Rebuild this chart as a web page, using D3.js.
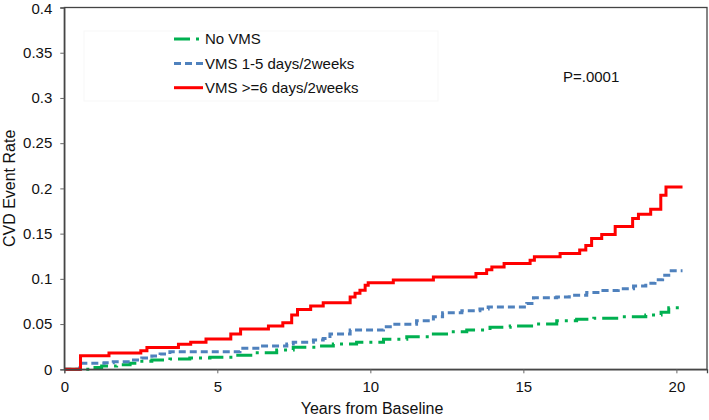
<!DOCTYPE html>
<html><head><meta charset="utf-8">
<script src="https://cdn.jsdelivr.net/npm/d3@7"></script>
<style>
html,body{margin:0;padding:0;background:#fff;}
svg{display:block;font-family:"Liberation Sans",Arial,sans-serif;}
</style></head>
<body><svg id="c" width="709" height="420"></svg>
<script>
// ---- data ----
const seriesNames = ["No VMS", "VMS 1-5 days/2weeks", "VMS >=6 days/2weeks"];
const xTicks = [0, 5, 10, 15, 20];
const yTicks = [0, 0.05, 0.1, 0.15, 0.2, 0.25, 0.3, 0.35, 0.4];
const pValueLabel = "P=.0001";

const noVmsTime = [0,0.6,0.84,1.22,1.71,2.15,2.47,2.86,3.45,4.1,4.76,5.52,6.18,6.94,7.48,8.25,8.79,9.55,10.43,11.19,12.06,12.71,13.15,13.91,14.57,15.33,16.09,16.74,17.3,18.2,19.0,19.5,19.75,20.2];
const noVmsRate = [0,0,0.002,0.0036,0.005,0.0066,0.0088,0.0103,0.0114,0.0125,0.0132,0.0155,0.0183,0.0213,0.0243,0.0257,0.028,0.0298,0.0331,0.036,0.039,0.0415,0.0434,0.0464,0.0478,0.050,0.0536,0.0552,0.0565,0.058,0.060,0.063,0.068,0.068];

const vms15Time = [0,0.43,0.5,1.3,1.6,2.15,2.53,2.86,3.13,3.45,5.74,6.4,7.27,7.48,8.14,8.46,8.68,9.34,10.43,10.75,11.51,12.06,12.36,12.99,13.58,13.85,15.11,15.33,16.09,16.5,17.07,17.6,18.1,18.6,19.0,19.3,19.55,19.75,20.2];
const vms15Rate = [0,0,0.0066,0.0073,0.0084,0.0103,0.0125,0.0147,0.0169,0.0194,0.0232,0.0257,0.028,0.030,0.0323,0.034,0.039,0.0434,0.047,0.0497,0.0537,0.058,0.0625,0.0647,0.0666,0.069,0.0728,0.079,0.080,0.082,0.085,0.087,0.089,0.092,0.095,0.099,0.104,0.109,0.109];

const vms6Time = [0,0.45,0.53,1.46,2.5,2.7,3.73,4.13,4.63,5.44,5.76,6.67,7.14,7.43,7.62,8.05,8.46,9.34,9.5,9.66,9.83,9.93,10.75,12.06,13.45,13.8,13.97,14.37,15.22,15.36,16.2,16.84,17.04,17.23,17.56,18.0,18.57,18.76,19.16,19.49,19.66,20.2];
const vms6Rate = [0,0,0.015,0.018,0.0205,0.024,0.0276,0.030,0.0334,0.039,0.0445,0.048,0.0515,0.06,0.066,0.07,0.0735,0.080,0.084,0.0875,0.093,0.0956,0.0986,0.102,0.106,0.11,0.113,0.117,0.1205,0.1245,0.128,0.132,0.137,0.1446,0.149,0.158,0.1667,0.1714,0.177,0.1924,0.2015,0.2015];

// ---- chart ----
const svg = d3.select("#c");
const L = 64.3, R = 707, T = 7.5, B = 369.3;
const x = d3.scaleLinear().domain([0, 21]).range([L, R]);
const y = d3.scaleLinear().domain([0, 0.4]).range([B, T]);

const styles = [
  {color:"#00B050", dash:"16,6,3,6"},
  {color:"#4F81BD", dash:"7,4"},
  {color:"#FF0000", dash:null}
];
const series = [
  d3.zip(noVmsTime, noVmsRate),
  d3.zip(vms15Time, vms15Rate),
  d3.zip(vms6Time, vms6Rate)
];

// legend faint box
svg.append("rect").attr("x",84).attr("y",31).attr("width",354).attr("height",70)
  .attr("fill","none").attr("stroke","#f7f7f7").attr("stroke-width",1);

const line = d3.line().x(d=>x(d[0])).y(d=>y(d[1])).curve(d3.curveStepAfter);
series.forEach((s,i)=>{
  svg.append("path").datum(s).attr("d",line)
    .attr("fill","none").attr("stroke",styles[i].color).attr("stroke-width",3)
    .attr("stroke-dasharray",styles[i].dash).attr("stroke-linejoin","miter");
});

// frame
svg.append("rect").attr("x",L).attr("y",T).attr("width",R-L).attr("height",B-T)
  .attr("fill","none").attr("stroke","#444").attr("stroke-width",1.3);

// axes
const xAxis = d3.axisBottom(x).tickValues(xTicks).tickSize(4).tickPadding(8).tickFormat(d3.format("d"));
const gx = svg.append("g").attr("transform",`translate(0,${B})`).call(xAxis);
const yAxis = d3.axisLeft(y).tickValues(yTicks).tickSize(4).tickPadding(8).tickFormat(d=>d===0?"0":String(d));
const gy = svg.append("g").attr("transform",`translate(${L},0)`).call(yAxis);
[gx,gy].forEach(g=>{
  g.select(".domain").attr("stroke","#444").attr("stroke-width",1.3);
  g.selectAll(".tick line").attr("stroke","#666");
  g.selectAll("text").attr("font-size",15).attr("fill","#111").attr("font-family","Liberation Sans, Arial, sans-serif");
});
gy.selectAll(".tick").filter(d=>d===0.4).select("text").attr("dy","0.4em");

// titles
svg.append("text").attr("x",372).attr("y",414).attr("text-anchor","middle")
  .attr("font-size",16).attr("fill","#111").text("Years from Baseline");
svg.append("text").attr("transform",`translate(15,${(T+B)/2}) rotate(-90)`).attr("text-anchor","middle")
  .attr("font-size",16).attr("fill","#111").text("CVD Event Rate");

// legend
const legY = [39, 63.5, 87.7];
seriesNames.forEach((n,i)=>{
  svg.append("line").attr("x1",174).attr("x2",203).attr("y1",legY[i]).attr("y2",legY[i])
    .attr("stroke",styles[i].color).attr("stroke-width",3).attr("stroke-dasharray",styles[i].dash);
  svg.append("text").attr("x",205).attr("y",legY[i]+5).attr("font-size",15).attr("fill","#111").text(n);
});
svg.append("text").attr("x",563).attr("y",82.3).attr("font-size",15).attr("fill","#111").text(pValueLabel);
</script></body></html>
